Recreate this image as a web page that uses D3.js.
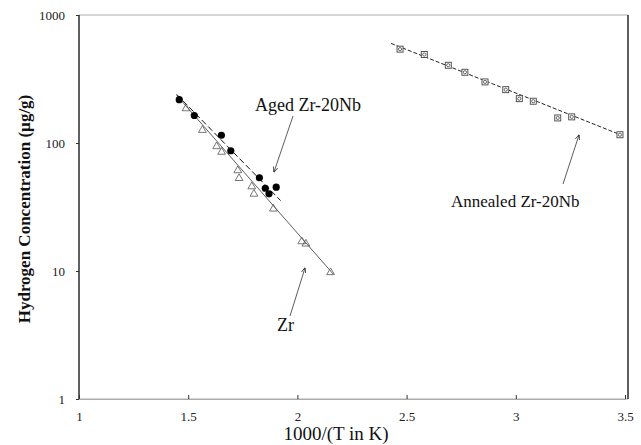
<!DOCTYPE html>
<html>
<head>
<meta charset="utf-8">
<script src="https://cdn.jsdelivr.net/npm/d3@7"></script>
<style>
  body { margin: 0; background: #fff; }
  text { font-family: "Liberation Serif", "DejaVu Serif", serif; fill: #111; }
</style>
</head>
<body>
<svg></svg>
<script>
// data
var xTicks = [1, 1.5, 2, 2.5, 3, 3.5];
var yTicks = [1, 10, 100, 1000];

var agedX = [1.459, 1.528, 1.652, 1.695, 1.826, 1.853, 1.870, 1.903];
var agedY = [218, 164, 115, 87, 53.5, 44.3, 40.1, 45.2];

var zrX = [1.490, 1.565, 1.630, 1.653, 1.727, 1.733, 1.791, 1.801, 1.890, 2.020, 2.039, 2.152];
var zrY = [186, 126, 94, 85, 61, 53, 45.7, 40, 30.6, 17, 16.3, 9.75];

var annX = [2.470, 2.581, 2.691, 2.767, 2.859, 2.954, 3.016, 3.080, 3.192, 3.256, 3.477];
var annY = [541, 491, 405, 357, 300, 261, 222, 212, 157, 160, 116];

// fitted lines (end points)
var agedFitX = [1.447, 1.923], agedFitY = [240, 35.5];
var zrFitX = [1.447, 2.164], zrFitY = [236, 9.47];
var annFitX = [2.429, 3.485], annFitY = [600, 115];

var width = 641, height = 445;
var serif = '"Liberation Serif", "DejaVu Serif", serif';
var svg = d3.select("svg").attr("width", width).attr("height", height);

var x = d3.scaleLinear().domain([1, 3.5]).range([79, 625]);
var y = d3.scaleLog().domain([1, 1000]).range([399, 15]);

// frame
svg.append("rect")
  .attr("x", 79).attr("y", 15)
  .attr("width", 628 - 79).attr("height", 399 - 15)
  .attr("fill", "none").attr("stroke", "#999").attr("stroke-width", 0.8);
svg.append("line").attr("x1", 79).attr("x2", 79).attr("y1", 15).attr("y2", 399)
  .attr("stroke", "#111").attr("stroke-width", 1.2);
svg.append("line").attr("x1", 628).attr("x2", 628).attr("y1", 15).attr("y2", 399)
  .attr("stroke", "#111").attr("stroke-width", 1.2);

// axes
var xAxis = d3.axisBottom(x).tickValues(xTicks).tickSize(-4).tickPadding(12)
  .tickFormat(function(d) { return d; });
var gx = svg.append("g").attr("transform", "translate(0,399)").call(xAxis)
  .attr("font-family", serif);
gx.select(".domain").attr("stroke", "#aaa");
gx.selectAll("line").attr("stroke", "#333");
gx.selectAll("text").style("font-family", serif).style("font-size", "13px")
  .style("fill", "#222").attr("dy", "0.8em");

var yAxis = d3.axisLeft(y).tickValues(yTicks).tickSize(3).tickPadding(11)
  .tickFormat(function(d) { return d; });
var gy = svg.append("g").attr("transform", "translate(79,0)").call(yAxis)
  .attr("font-family", serif);
gy.select(".domain").remove();
gy.selectAll("line").attr("stroke", "#333");
gy.selectAll("text").style("font-family", serif).style("font-size", "13px")
  .style("fill", "#222");

// axis titles
svg.append("text")
  .attr("x", 336).attr("y", 440)
  .attr("text-anchor", "middle")
  .style("font-size", "19px")
  .text("1000/(T in K)");

svg.append("text")
  .attr("transform", "translate(30,209) rotate(-90)")
  .attr("text-anchor", "middle")
  .style("font-size", "17px")
  .style("font-weight", "bold")
  .text("Hydrogen Concentration (\u00b5g/g)");

// fit lines
var line = d3.line().x(function(d) { return x(d[0]); }).y(function(d) { return y(d[1]); });

svg.append("path").datum(d3.zip(zrFitX, zrFitY)).attr("d", line)
  .attr("fill", "none").attr("stroke", "#333").attr("stroke-width", 0.8);
svg.append("path").datum(d3.zip(agedFitX, agedFitY)).attr("d", line)
  .attr("fill", "none").attr("stroke", "#111").attr("stroke-width", 1)
  .attr("stroke-dasharray", "6,3");
svg.append("path").datum(d3.zip(annFitX, annFitY)).attr("d", line)
  .attr("fill", "none").attr("stroke", "#222").attr("stroke-width", 1)
  .attr("stroke-dasharray", "4,2");

// Zr: open triangles
var tri = d3.symbol().type(d3.symbolTriangle).size(26);
svg.selectAll(".zr").data(d3.zip(zrX, zrY)).enter().append("path")
  .attr("class", "zr")
  .attr("d", tri)
  .attr("transform", function(d) { return "translate(" + x(d[0]) + "," + y(d[1]) + ")"; })
  .attr("fill", "none").attr("stroke", "#555").attr("stroke-width", 0.8);

// Aged: filled circles
svg.selectAll(".aged").data(d3.zip(agedX, agedY)).enter().append("circle")
  .attr("class", "aged")
  .attr("cx", function(d) { return x(d[0]); })
  .attr("cy", function(d) { return y(d[1]); })
  .attr("r", 3.6)
  .attr("fill", "#000");

// Annealed: square with circle inside
var ann = svg.selectAll(".ann").data(d3.zip(annX, annY)).enter().append("g")
  .attr("class", "ann")
  .attr("transform", function(d) { return "translate(" + x(d[0]) + "," + y(d[1]) + ")"; });
ann.append("rect").attr("x", -3).attr("y", -3).attr("width", 6).attr("height", 6)
  .attr("fill", "#fff").attr("stroke", "#444").attr("stroke-width", 0.9);
ann.append("circle").attr("r", 1.6).attr("fill", "none").attr("stroke", "#444").attr("stroke-width", 0.8);

// labels and arrows
svg.append("defs").append("marker")
  .attr("id", "ah").attr("viewBox", "0 0 10 10").attr("refX", 9).attr("refY", 5)
  .attr("markerWidth", 7).attr("markerHeight", 7).attr("orient", "auto")
  .append("path").attr("d", "M0,1 L10,5 L0,9").attr("fill", "none").attr("stroke", "#222").attr("stroke-width", 1.3);

function label(txt, tx, ty, size, ax1, ay1, ax2, ay2) {
  svg.append("text").attr("x", tx).attr("y", ty).style("font-size", size + "px").text(txt);
  svg.append("line").attr("x1", ax1).attr("y1", ay1).attr("x2", ax2).attr("y2", ay2)
    .attr("stroke", "#333").attr("stroke-width", 0.8).attr("marker-end", "url(#ah)");
}
label("Aged Zr-20Nb", 255, 111, 18, 293, 116, 274, 172);
label("Zr", 277, 331, 18, 290, 316, 305, 268);
label("Annealed Zr-20Nb", 451, 207, 17, 563, 184, 579, 135);
</script>
</body>
</html>
